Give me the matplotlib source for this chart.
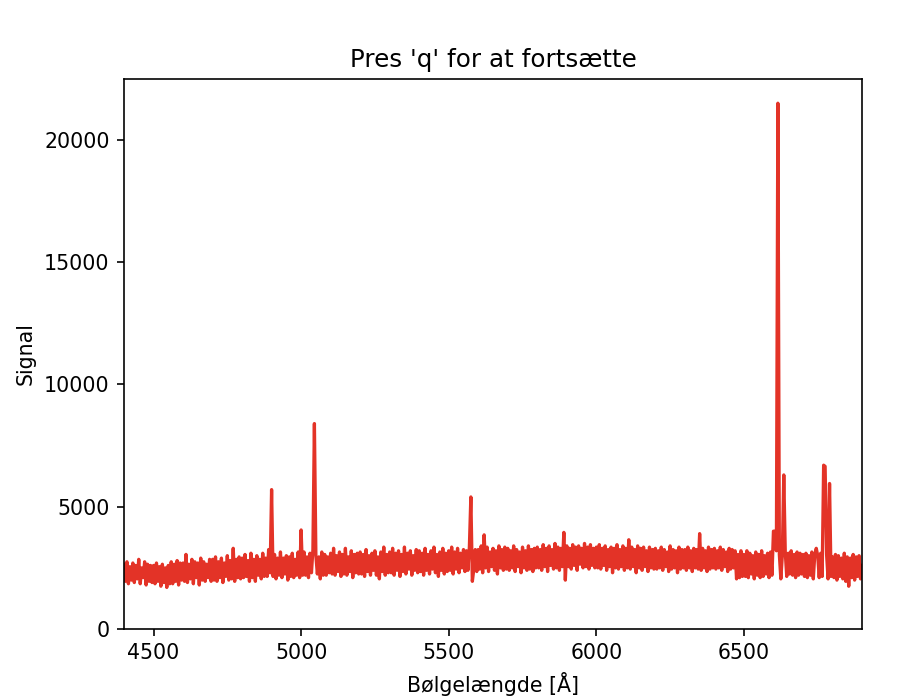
import matplotlib
matplotlib.use("Agg")
import matplotlib.pyplot as plt
from matplotlib.ticker import MultipleLocator
import numpy as np

# continuum, sampled every 5 Å from 4400 to 6900
start, step = 4400, 5
continuum = [
    2650, 1950, 2750, 1850, 2550, 2000, 2700, 1900, 2600, 2050, 2850, 1850, 2500, 2100, 2750, 1800, 2650, 1950, 2600, 1900,
    2600, 1850, 2700, 1950, 2550, 1750, 2650, 1900, 2500, 1700, 2600, 1850, 2750, 1850, 2650, 1950, 2800, 1800, 2700, 2000,
    2700, 1950, 3050, 1900, 2650, 2050, 2850, 1850, 2750, 2100, 2700, 1800, 2900, 2000, 2750, 1950, 2650, 2100, 2850, 1950,
    2850, 2000, 2950, 1950, 2750, 2100, 2900, 1900, 2700, 2150, 3000, 2000, 2800, 2050, 3300, 1950, 2850, 2100, 2950, 2050,
    2900, 2100, 3050, 2150, 2800, 1950, 3100, 2100, 2850, 1950, 3000, 2200, 2850, 2050, 3100, 2150, 2900, 2150, 3250, 2300,
    2950, 2150, 3050, 2050, 2900, 2200, 3150, 2100, 2900, 2250, 3000, 2000, 2950, 2150, 3100, 2100, 2850, 2200, 3150, 2100,
    3050, 2200, 3150, 2200, 2950, 2100, 3100, 2300, 3250, 2150, 3000, 2250, 2950, 2050, 3150, 2200, 3050, 2200, 2950, 2300,
    3100, 2250, 3300, 2200, 3000, 2350, 3150, 2150, 3050, 2250, 3300, 2200, 2950, 2350, 3200, 2100, 3050, 2300, 3100, 2250,
    3150, 2250, 3050, 2150, 3250, 2350, 3000, 2200, 3100, 2400, 3200, 2200, 2950, 2050, 3150, 2350, 3350, 2200, 3050, 2300,
    3150, 2300, 3300, 2200, 3100, 2400, 3200, 2150, 3050, 2350, 3350, 2250, 3100, 2450, 3200, 2200, 3000, 2400, 3250, 2300,
    3200, 2350, 3100, 2200, 3300, 2400, 3050, 2250, 3200, 2450, 3350, 2300, 3050, 2150, 3150, 2400, 3300, 2250, 3100, 2350,
    3200, 2400, 3350, 2250, 3150, 2450, 3300, 2300, 3100, 2500, 3250, 2350, 3200, 2400, 3350, 2250, 1950, 2450, 3250, 2350,
    3250, 2450, 3400, 2300, 3200, 2500, 3350, 2350, 3150, 2550, 3300, 2400, 3200, 2250, 3400, 2500, 3250, 2400, 3350, 2450,
    3300, 2400, 3200, 2500, 3400, 2350, 3250, 2550, 3150, 2300, 3350, 2500, 3200, 2400, 3400, 2450, 3250, 2350, 3300, 2500,
    3350, 2500, 3250, 2400, 3450, 2550, 3300, 2350, 3400, 2600, 3250, 2450, 3500, 2500, 3350, 2400, 3300, 2550, 3400, 2000,
    3400, 2550, 3300, 2450, 3450, 2600, 3350, 2400, 3400, 2650, 3300, 2500, 3500, 2550, 3350, 2450, 3450, 2600, 3300, 2500,
    3350, 2500, 3450, 2450, 3300, 2600, 3400, 2400, 3250, 2550, 3350, 2300, 3300, 2500, 3450, 2450, 3250, 2550, 3400, 2400,
    3300, 2500, 3650, 2450, 3350, 2550, 3250, 2300, 3400, 2500, 3300, 2400, 3350, 2550, 3200, 2350, 3350, 2500, 3250, 2450,
    3300, 2450, 3200, 2500, 3350, 2400, 3250, 2550, 3150, 2350, 3400, 2450, 3250, 2500, 3200, 2300, 3350, 2450, 3250, 2500,
    3250, 2400, 3350, 2500, 3200, 2350, 3300, 2500, 3250, 2450, 3900, 2400, 3300, 2500, 3200, 2350, 3350, 2450, 3250, 2500,
    3300, 2450, 3200, 2500, 3350, 2400, 3250, 2550, 3150, 2350, 3300, 2450, 3250, 2500, 3200, 2050, 3050, 2100, 3200, 2150,
    3050, 2150, 3200, 2100, 3100, 2250, 3000, 2050, 3150, 2200, 3050, 2100, 3200, 2150, 3000, 2250, 3100, 2100, 3150, 2200,
    3100, 2250, 3200, 2150, 3050, 2050, 3000, 2200, 3150, 2150, 3100, 2250, 3200, 2200, 3050, 2100, 3150, 2200, 3100, 2250,
    3050, 2150, 3100, 2100, 3000, 2200, 3150, 2050, 3050, 2200, 3000, 2100, 3100, 2150, 3150, 2200, 3050, 2050, 3000, 2150,
    2950, 2100, 3050, 2000, 3000, 2150, 2900, 2050, 3100, 1950, 2950, 1750, 2900, 2100, 3050, 2000, 2950, 2150, 3000, 2050,
    2600,
]

# emission lines (Hb, [OIII], sky lines, Ha, [NII], [SII])
line_wave = [4900, 5000, 5045, 5575, 5620, 5890, 6600, 6605, 6615, 6635, 6745, 6770, 6775, 6790]
line_peak = [5700, 4050, 8400, 5400, 3850, 3950, 4000, 4000, 21500, 6300, 3300, 6700, 6650, 5950]

signal = np.array(continuum, dtype=float)
wave = start + step * np.arange(len(signal))
for w, p in zip(line_wave, line_peak):
    signal[(w - start) // step] = p

fig = plt.figure(figsize=(907 / 148, 700 / 148), dpi=148)
ax = fig.add_axes([0.1367, 0.1014, 0.8137, 0.7857])

ax.plot(wave, signal, color='#e33327', lw=1.6)
ax.set_xlim(wave[0], wave[-1])
ax.set_ylim(bottom=0)
ax.yaxis.set_major_locator(MultipleLocator(5000))

ax.set_title("Pres 'q' for at fortsætte")
ax.set_xlabel('Bølgelængde [Å]')
ax.set_ylabel('Signal')

fig.savefig('out.png', dpi=148)
